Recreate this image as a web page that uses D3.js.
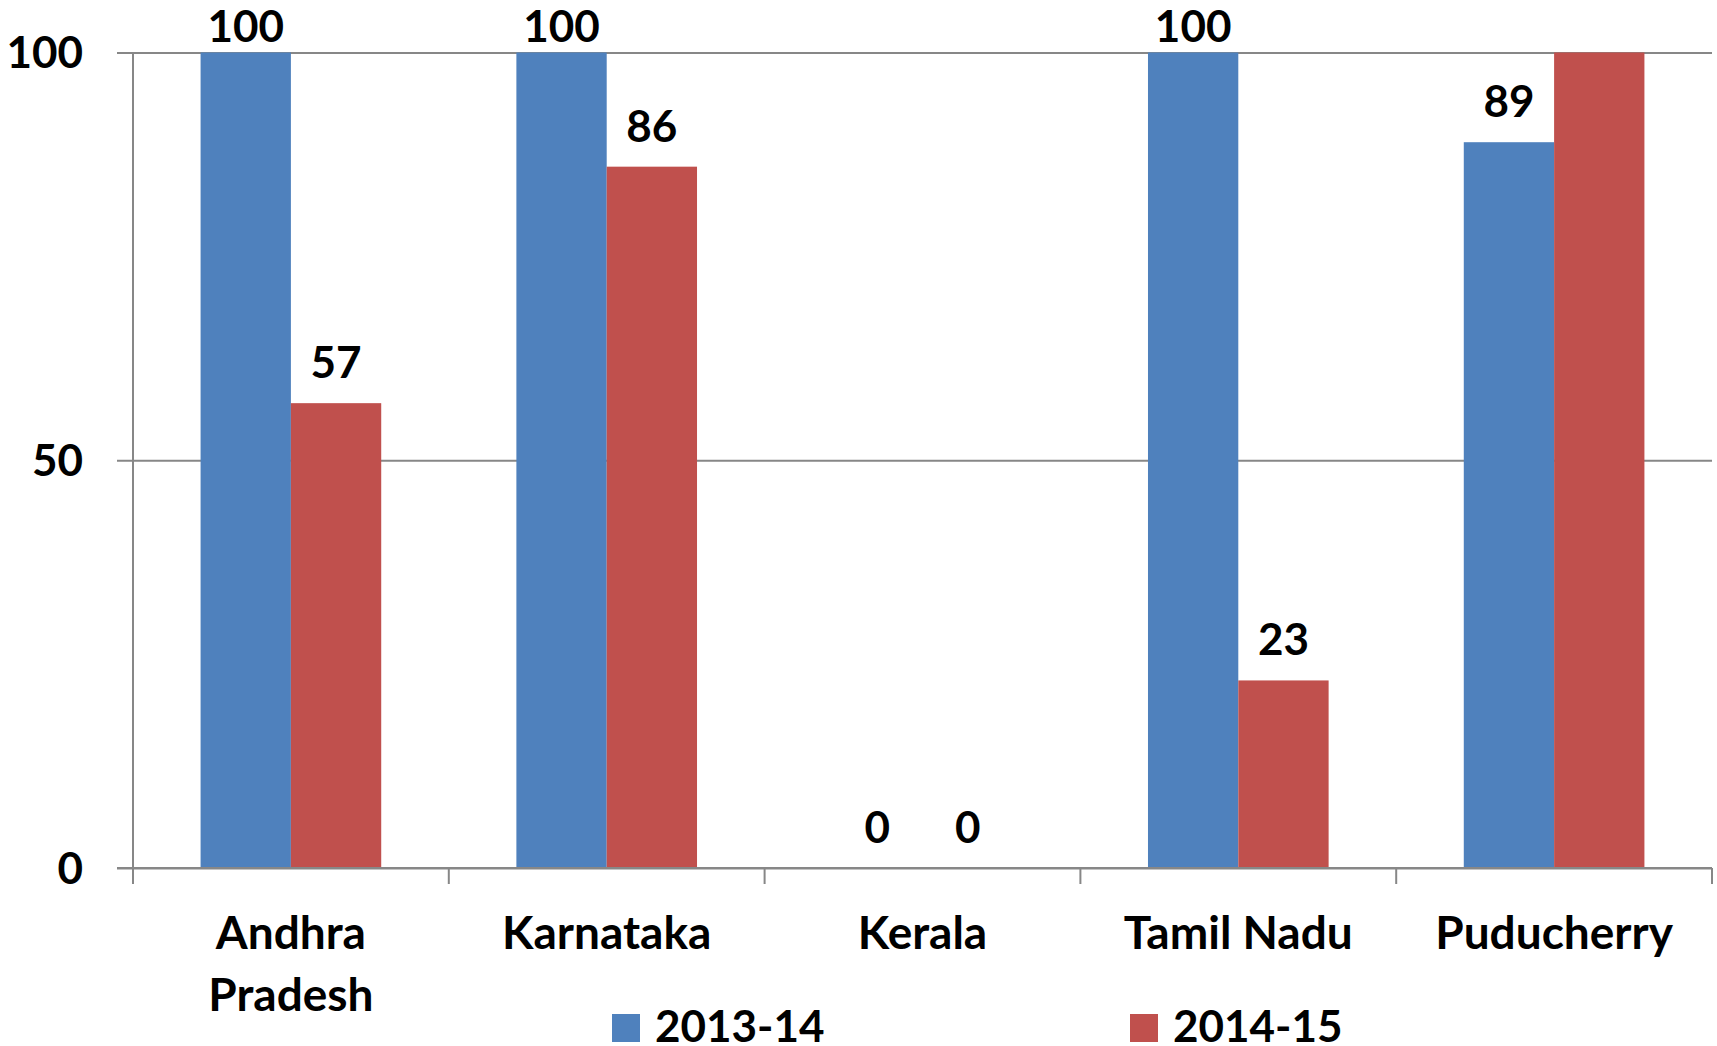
<!DOCTYPE html>
<html>
<head>
<meta charset="utf-8">
<script src="https://cdn.jsdelivr.net/npm/d3@7"></script>
<style>
  body { margin: 0; background: #fff; }
  text { font-family: "Lato", "Open Sans", sans-serif; font-weight: bold; fill: #000; }
</style>
</head>
<body>
<div id="chart"></div>
<script>
// chart data
const states = ["Andhra Pradesh", "Karnataka", "Kerala", "Tamil Nadu", "Puducherry"];
const seriesNames = ["2013-14", "2014-15"];
const values2013 = [100, 100, 0, 100, 89];
const values2014 = [57, 86, 0, 23, 100];
// the 2014-15 Puducherry label is not shown in the original
const labels2013 = ["100", "100", "0", "100", "89"];
const labels2014 = ["57", "86", "0", "23", ""];
const yTicks = [0, 50, 100];
const colors = ["#4F81BD", "#C0504D"];

const width = 1717;
const height = 1046;
const margin = { top: 52.5, right: 5, bottom: 178, left: 133 };
const plotW = width - margin.left - margin.right;
const plotH = height - margin.top - margin.bottom;
const fontSize = 44;
const catFontSize = 46;

const svg = d3
  .select("#chart")
  .append("svg")
  .attr("width", width)
  .attr("height", height);

const g = svg.append("g").attr("transform", `translate(${margin.left},${margin.top})`);

// scales
const x = d3
  .scaleBand()
  .domain(states)
  .range([0, plotW])
  .paddingInner(0.428)
  .paddingOuter(0.214);

const xSeries = d3.scaleBand().domain(seriesNames).range([0, x.bandwidth()]).padding(0);

const y = d3.scaleLinear().domain([0, 100]).range([plotH, 0]);

// y axis with gridlines
const yAxis = d3.axisLeft(y).tickValues(yTicks).tickSize(0).tickFormat(d3.format("d"));
const yG = g.append("g").call(yAxis);
yG.select(".domain").remove();
yG.selectAll(".tick line")
  .attr("x1", -16)
  .attr("x2", plotW)
  .attr("stroke", "#878787")
  .attr("stroke-width", 2);
yG.selectAll(".tick text")
  .attr("x", -50)
  .attr("dy", "0.35em")
  .attr("font-size", fontSize)
  .style("font-family", "Lato, sans-serif")
  .style("font-weight", "bold")
  .attr("fill", "#000");

// vertical axis line
g.append("line")
  .attr("x1", 0)
  .attr("x2", 0)
  .attr("y1", 0)
  .attr("y2", plotH + 16)
  .attr("stroke", "#878787")
  .attr("stroke-width", 2);

// category boundary ticks on the x axis
const boundaries = d3.range(states.length + 1).map((i) => i * x.step());
g.selectAll(".xtick")
  .data(boundaries.slice(1))
  .enter()
  .append("line")
  .attr("class", "xtick")
  .attr("x1", (d) => d)
  .attr("x2", (d) => d)
  .attr("y1", plotH)
  .attr("y2", plotH + 16)
  .attr("stroke", "#878787")
  .attr("stroke-width", 2);

// bars
const rows = states.map((s, i) => ({
  state: s,
  items: [
    { series: seriesNames[0], value: values2013[i], label: labels2013[i] },
    { series: seriesNames[1], value: values2014[i], label: labels2014[i] },
  ],
}));

const groups = g
  .selectAll(".group")
  .data(rows)
  .enter()
  .append("g")
  .attr("class", "group")
  .attr("transform", (d) => `translate(${x(d.state)},0)`);

groups
  .selectAll("rect")
  .data((d) => d.items)
  .enter()
  .append("rect")
  .attr("x", (d) => xSeries(d.series))
  .attr("y", (d) => y(d.value))
  .attr("width", xSeries.bandwidth())
  .attr("height", (d) => plotH - y(d.value))
  .attr("fill", (d, i) => colors[i]);

// x axis line (drawn over the bars' bottom edge)
g.append("line")
  .attr("x1", -16)
  .attr("x2", plotW)
  .attr("y1", plotH)
  .attr("y2", plotH)
  .attr("stroke", "#878787")
  .attr("stroke-width", 2);

// value labels, kept inside the picture like the original
groups
  .selectAll(".val")
  .data((d) => d.items)
  .enter()
  .append("text")
  .attr("class", "val")
  .attr("x", (d) => xSeries(d.series) + xSeries.bandwidth() / 2)
  .attr("y", (d) => Math.max(y(d.value) - 25, -11))
  .attr("text-anchor", "middle")
  .attr("font-size", fontSize)
  .text((d) => d.label);

// category labels
const catLabels = g
  .selectAll(".cat")
  .data(states)
  .enter()
  .append("text")
  .attr("class", "cat")
  .attr("x", (d) => x(d) + x.bandwidth() / 2)
  .attr("y", plotH + 80.5)
  .attr("text-anchor", "middle")
  .attr("font-size", catFontSize);

catLabels.each(function (d) {
  const words = d === "Andhra Pradesh" ? ["Andhra", "Pradesh"] : [d];
  const t = d3.select(this);
  words.forEach((w, i) => {
    t.append("tspan")
      .attr("x", x(d) + x.bandwidth() / 2)
      .attr("dy", i === 0 ? 0 : 62)
      .text(w);
  });
});

// legend
const legendX = [612, 1130];
const legend = svg
  .selectAll(".legend")
  .data(seriesNames)
  .enter()
  .append("g")
  .attr("class", "legend")
  .attr("transform", (d, i) => `translate(${legendX[i]},1014)`);

legend
  .append("rect")
  .attr("width", 28)
  .attr("height", 28)
  .attr("fill", (d, i) => colors[i]);

legend
  .append("text")
  .attr("x", 43)
  .attr("y", 28)
  .attr("font-size", fontSize)
  .text((d) => d);
</script>
</body>
</html>
